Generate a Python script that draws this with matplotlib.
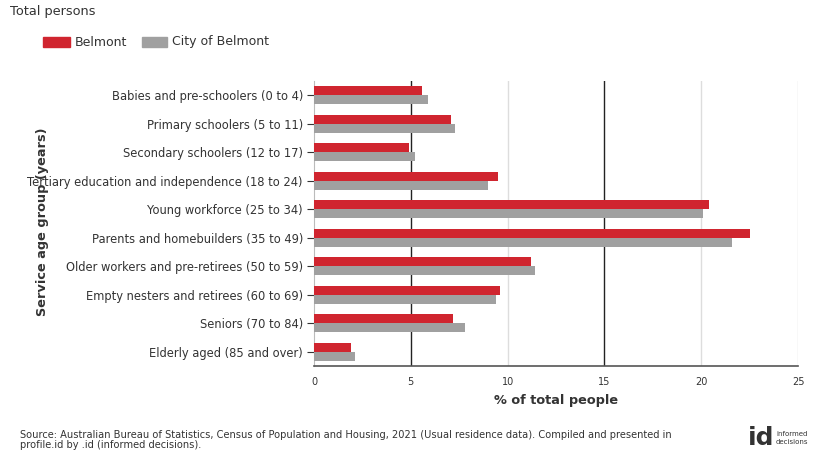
import matplotlib
matplotlib.use("Agg")
import matplotlib.pyplot as plt
import numpy as np
from matplotlib.patches import Rectangle

categories = [
    "Babies and pre-schoolers (0 to 4)",
    "Primary schoolers (5 to 11)",
    "Secondary schoolers (12 to 17)",
    "Tertiary education and independence (18 to 24)",
    "Young workforce (25 to 34)",
    "Parents and homebuilders (35 to 49)",
    "Older workers and pre-retirees (50 to 59)",
    "Empty nesters and retirees (60 to 69)",
    "Seniors (70 to 84)",
    "Elderly aged (85 and over)",
]
belmont = [5.6, 7.1, 4.9, 9.5, 20.4, 22.5, 11.2, 9.6, 7.2, 1.9]
city_of_belmont = [5.9, 7.3, 5.2, 9.0, 20.1, 21.6, 11.4, 9.4, 7.8, 2.1]
series_names = ["Belmont", "City of Belmont"]
x_ticks = [0, 5, 10, 15, 20, 25]

RED = "#D0252F"
GRAY = "#A0A0A0"

fig = plt.figure(figsize=(8.16, 4.55), dpi=100)
ax = fig.add_axes([314/816, 1-366/455, (798-314)/816, (366-81)/455])

n = len(categories)
y = np.arange(n)
h = 0.32
ax.barh(y - h/2, belmont, height=h, color=RED, edgecolor="none", zorder=3)
ax.barh(y + h/2, city_of_belmont, height=h, color=GRAY, edgecolor="none", zorder=3)

ax.set_ylim(n - 0.5, -0.5)
ax.set_xlim(0, 25)
ax.set_yticks(y)
ax.set_yticklabels(categories, fontsize=8.3, color="#333333")
ax.set_xticks(x_ticks)
ax.set_xticklabels([str(v) for v in x_ticks], fontsize=7, color="#333333")
ax.tick_params(axis="y", length=5, width=0.8, color="#333333", pad=3)
ax.tick_params(axis="x", length=0, pad=8)

for v in x_ticks[1:]:
    if v in (5, 15):
        ax.axvline(v, color="#222222", lw=1.0, zorder=1)
    else:
        ax.axvline(v, color="#DDDDDD", lw=1.0, zorder=1)

for s in ["top", "right"]:
    ax.spines[s].set_visible(False)
ax.spines["left"].set_color("#BBBBBB")
ax.spines["bottom"].set_color("#555555")
ax.spines["bottom"].set_linewidth(1.2)

ax.set_xlabel("% of total people", fontsize=9.3, color="#333333", fontweight="bold", labelpad=5)
fig.text(43/816, 1-222/455, "Service age group (years)", rotation=90, fontsize=9.3,
         color="#333333", fontweight="bold", ha="center", va="center")

fig.text(10/816, 1-12/455, "Total persons", fontsize=9.3, color="#333333", va="center")

# legend
fig.patches.append(Rectangle((43/816, 1-47/455), 27/816, 10/455, color=RED, transform=fig.transFigure, figure=fig))
fig.text(75/816, 1-42/455, series_names[0], fontsize=9, color="#333333", va="center")
fig.patches.append(Rectangle((142/816, 1-47/455), 25/816, 10/455, color=GRAY, transform=fig.transFigure, figure=fig))
fig.text(172/816, 1-42/455, series_names[1], fontsize=9, color="#333333", va="center")

fig.text(20/816, 1-440/455,
         "Source: Australian Bureau of Statistics, Census of Population and Housing, 2021 (Usual residence data). Compiled and presented in\nprofile.id by .id (informed decisions).",
         fontsize=7.1, color="#333333", va="center", linespacing=1.1)

fig.text(748/816, 1-438/455, "id", fontsize=18, fontweight="bold", color="#333333", va="center")
fig.text(776/816, 1-438/455, "informed\ndecisions", fontsize=5, color="#333333", va="center", linespacing=1.2)

fig.savefig("out.png", dpi=100)
